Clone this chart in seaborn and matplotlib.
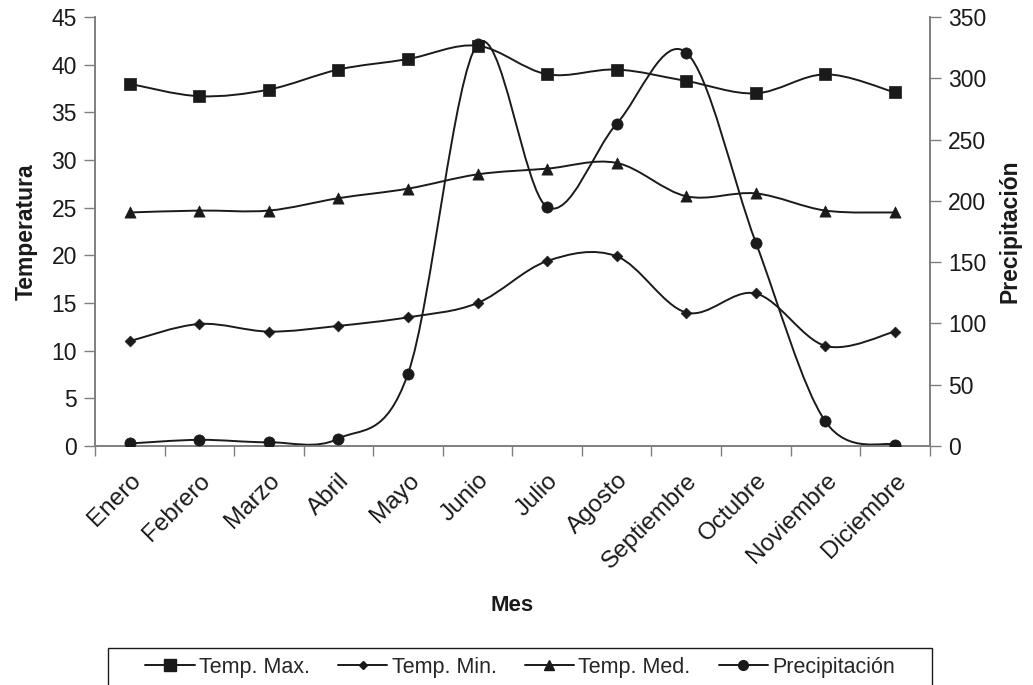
import numpy as np
import matplotlib
matplotlib.use("Agg")
import matplotlib.pyplot as plt
from matplotlib.path import Path
from matplotlib.patches import PathPatch, Rectangle
from matplotlib.lines import Line2D
import seaborn as sns
import pandas as pd

# Data
meses = ['Enero', 'Febrero', 'Marzo', 'Abril', 'Mayo', 'Junio', 'Julio',
         'Agosto', 'Septiembre', 'Octubre', 'Noviembre', 'Diciembre']
temp_max = [38.0, 36.7, 37.4, 39.5, 40.6, 42.0, 39.0, 39.5, 38.3, 37.0, 39.0, 37.1]
temp_min = [11.0, 12.8, 12.0, 12.6, 13.5, 15.0, 19.4, 19.9, 14.0, 16.0, 10.5, 12.0]
temp_med = [24.5, 24.7, 24.7, 26.0, 27.0, 28.5, 29.1, 29.7, 26.2, 26.5, 24.7, 24.5]
precip = [2, 5, 3, 6, 59, 328, 195, 263, 321, 166, 20, 1]

sns.set_style('ticks')
plt.rcParams['font.family'] = ['Liberation Sans', 'DejaVu Sans']

ink = '#1a1a1a'
grey = '#7f7f7f'

fig = plt.figure(figsize=(10.33, 6.85), dpi=100)
ax = fig.add_axes([0.092, 0.349, 0.808, 0.626])
ax2 = ax.twinx()

x = np.arange(len(meses))


def smooth_line(axis, xs, ys):
    # Excel-like smoothed line: Bezier segments through the data points
    pts = np.column_stack([xs, ys]).astype(float)
    ext = np.vstack([pts[0], pts, pts[-1]])
    verts = [tuple(pts[0])]
    codes = [Path.MOVETO]
    for i in range(len(pts) - 1):
        p0, p1, p2, p3 = ext[i], ext[i + 1], ext[i + 2], ext[i + 3]
        c1 = p1 + (p2 - p0) / 6.0
        c2 = p2 - (p3 - p1) / 6.0
        verts += [tuple(c1), tuple(c2), tuple(p2)]
        codes += [Path.CURVE4] * 3
    patch = PathPatch(Path(verts, codes), fill=False, edgecolor=ink,
                      linewidth=1.4, zorder=2)
    axis.add_patch(patch)


series = [
    (temp_max, 's', 85, ax),
    (temp_min, 'D', 30, ax),
    (temp_med, '^', 65, ax),
]
for vals, mk, sz, a in series:
    smooth_line(a, x, vals)
    df = pd.DataFrame({'x': x, 'y': vals})
    sns.scatterplot(data=df, x='x', y='y', marker=mk, s=sz, color=ink,
                    edgecolor=ink, linewidth=0.5, ax=a, zorder=3)

smooth_line(ax2, x, precip)
dfp = pd.DataFrame({'x': x, 'y': precip})
sns.scatterplot(data=dfp, x='x', y='y', marker='o', s=65, color=ink,
                edgecolor=ink, linewidth=0.5, ax=ax2, zorder=3)

ax.set_xlim(-0.5, len(meses) - 0.5)
ax.set_ylim(0, 45)
ax2.set_ylim(0, 350)
ax.set_yticks(np.arange(0, 46, 5))
ax2.set_yticks(np.arange(0, 351, 50))

# tick marks between categories, labels at the categories
ax.set_xticks(np.arange(-0.5, len(meses), 1.0))
ax.set_xticklabels([])
ax.set_xticks(x, minor=True)
ax.set_xticklabels(meses, minor=True, rotation=45, ha='right',
                   rotation_mode='anchor', fontsize=17.5, color=ink)
ax.tick_params(axis='x', which='minor', length=0, pad=17)
ax.tick_params(axis='x', which='major', length=7, width=1, color=grey)
ax.tick_params(axis='y', length=8, width=1, color=grey, labelsize=16.5,
               labelcolor=ink, pad=5)
ax2.tick_params(axis='y', length=8, width=1, color=grey, labelsize=16.5,
                labelcolor=ink, pad=5)

for a in (ax, ax2):
    a.set_xlabel('')
    a.set_ylabel('')
    a.spines['top'].set_visible(False)
    for s in ('left', 'right', 'bottom'):
        a.spines[s].set_color(grey)
        a.spines[s].set_linewidth(1.2)

ax.set_xlabel('Mes', fontsize=16, fontweight='bold', color=ink, labelpad=16)
ax.set_ylabel('Temperatura', fontsize=16.5, fontweight='bold', color=ink,
              labelpad=10)
ax2.set_ylabel('Precipitación', fontsize=16.5, fontweight='bold', color=ink,
               labelpad=9)

handles = [
    Line2D([], [], color=ink, lw=1.4, marker='s', markersize=8),
    Line2D([], [], color=ink, lw=1.4, marker='D', markersize=4.5),
    Line2D([], [], color=ink, lw=1.4, marker='^', markersize=7),
    Line2D([], [], color=ink, lw=1.4, marker='o', markersize=7),
]
labels = ['Temp. Max.', 'Temp. Min.', 'Temp. Med.', 'Precipitación']
leg = fig.legend(handles, labels, loc='center', ncol=4,
                 bbox_to_anchor=(0.5035, (685 - 667) / 685),
                 frameon=False, handlelength=2.3, handletextpad=0.2,
                 columnspacing=1.3, borderaxespad=0.0, borderpad=0.0,
                 prop={'family': ['Liberation Sans Narrow', 'Liberation Sans'],
                       'size': 15.5})
# legend frame, running off the bottom edge as in the reference
fig.patches.append(Rectangle((108 / 1033, -0.02), 824 / 1033,
                             (685 - 648) / 685 + 0.02,
                             transform=fig.transFigure, fill=False,
                             edgecolor=ink, linewidth=1.0))

fig.savefig('out.png', dpi=100)
